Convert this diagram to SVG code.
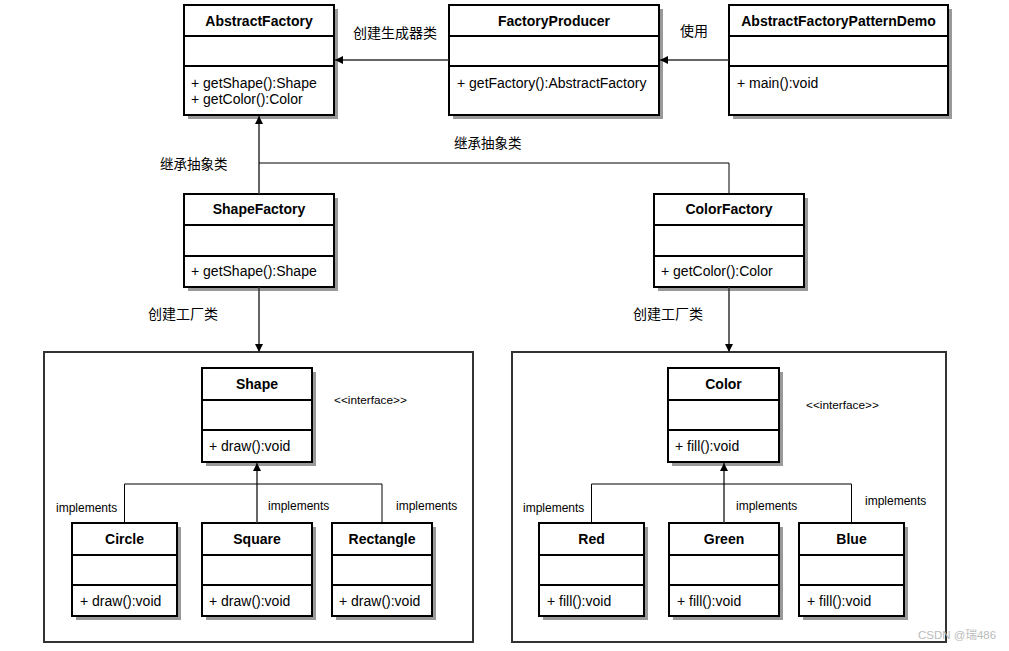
<svg xmlns="http://www.w3.org/2000/svg" width="1009" height="651" viewBox="0 0 1009 651">
<defs>
<style>
.box{fill:#fff;stroke:#000;stroke-width:2}
.sh{fill:#999}
.div{stroke:#000;stroke-width:2}
.hd{font-family:"Liberation Sans",Arial,sans-serif;font-size:14px;font-weight:bold;text-anchor:middle;fill:#000}
.mb{font-family:"Liberation Sans",Arial,sans-serif;font-size:14px;fill:#000}
.cn{font-family:"Liberation Sans","Noto Sans CJK SC",sans-serif;font-size:14px;fill:#000}
.im{font-family:"Liberation Sans",Arial,sans-serif;font-size:12px;fill:#000}
.it{font-family:"Liberation Sans",Arial,sans-serif;font-size:11.8px;fill:#000}
.ar{fill:none;stroke:#333;stroke-width:1.5}
.ln{fill:none;stroke:#000;stroke-width:1}
.ct{fill:#fff;stroke:#333;stroke-width:2}
</style>
<marker id="tri" viewBox="0 0 10 10" refX="10" refY="5" markerWidth="8" markerHeight="8" markerUnits="userSpaceOnUse" orient="auto">
<path d="M0,0 L10,5 L0,10 z" fill="#000"/>
</marker>
</defs>
<rect width="1009" height="651" fill="#fff"/>

<g id="containers">
<rect class="ct" x="44" y="352" width="429" height="290"/>
<rect class="ct" x="512" y="352" width="434" height="290"/>
</g>

<g id="AbstractFactory">
<rect class="sh" x="188" y="9" width="150" height="110"/>
<rect class="box" x="184" y="5" width="150" height="110"/>
<line class="div" x1="184" y1="36" x2="334" y2="36"/>
<line class="div" x1="184" y1="66" x2="334" y2="66"/>
<text class="hd" x="259" y="26">AbstractFactory</text>
<text class="mb" x="191" y="88">+ getShape():Shape</text>
<text class="mb" x="191" y="104">+ getColor():Color</text>
</g>

<g id="FactoryProducer">
<rect class="sh" x="453" y="9" width="210" height="110"/>
<rect class="box" x="449" y="5" width="210" height="110"/>
<line class="div" x1="449" y1="36" x2="659" y2="36"/>
<line class="div" x1="449" y1="66" x2="659" y2="66"/>
<text class="hd" x="554" y="26">FactoryProducer</text>
<text class="mb" x="457" y="88">+ getFactory():AbstractFactory</text>
</g>

<g id="AbstractFactoryPatternDemo">
<rect class="sh" x="733" y="9" width="219" height="110"/>
<rect class="box" x="729" y="5" width="219" height="110"/>
<line class="div" x1="729" y1="36" x2="948" y2="36"/>
<line class="div" x1="729" y1="66" x2="948" y2="66"/>
<text class="hd" x="838.5" y="26">AbstractFactoryPatternDemo</text>
<text class="mb" x="737" y="88">+ main():void</text>
</g>

<g id="ShapeFactory">
<rect class="sh" x="188" y="198" width="150" height="93"/>
<rect class="box" x="184" y="194" width="150" height="93"/>
<line class="div" x1="184" y1="225" x2="334" y2="225"/>
<line class="div" x1="184" y1="256" x2="334" y2="256"/>
<text class="hd" x="259" y="214">ShapeFactory</text>
<text class="mb" x="191" y="276">+ getShape():Shape</text>
</g>

<g id="ColorFactory">
<rect class="sh" x="658" y="198" width="150" height="93"/>
<rect class="box" x="654" y="194" width="150" height="93"/>
<line class="div" x1="654" y1="225" x2="804" y2="225"/>
<line class="div" x1="654" y1="256" x2="804" y2="256"/>
<text class="hd" x="729" y="214">ColorFactory</text>
<text class="mb" x="661" y="276">+ getColor():Color</text>
</g>

<g id="Shape">
<rect class="sh" x="206" y="372" width="110" height="94"/>
<rect class="box" x="202" y="368" width="110" height="94"/>
<line class="div" x1="202" y1="400" x2="312" y2="400"/>
<line class="div" x1="202" y1="430" x2="312" y2="430"/>
<text class="hd" x="257" y="389">Shape</text>
<text class="mb" x="209" y="451">+ draw():void</text>
<text class="it" x="334" y="404">&lt;&lt;interface&gt;&gt;</text>
</g>

<g id="Circle">
<rect class="sh" x="76" y="527" width="105" height="93"/>
<rect class="box" x="72" y="523" width="105" height="93"/>
<line class="div" x1="72" y1="555" x2="177" y2="555"/>
<line class="div" x1="72" y1="585" x2="177" y2="585"/>
<text class="hd" x="124.5" y="544">Circle</text>
<text class="mb" x="80" y="606">+ draw():void</text>
</g>

<g id="Square">
<rect class="sh" x="206" y="527" width="110" height="93"/>
<rect class="box" x="202" y="523" width="110" height="93"/>
<line class="div" x1="202" y1="555" x2="312" y2="555"/>
<line class="div" x1="202" y1="585" x2="312" y2="585"/>
<text class="hd" x="257" y="544">Square</text>
<text class="mb" x="209" y="606">+ draw():void</text>
</g>

<g id="Rectangle">
<rect class="sh" x="336" y="527" width="100" height="93"/>
<rect class="box" x="332" y="523" width="100" height="93"/>
<line class="div" x1="332" y1="555" x2="432" y2="555"/>
<line class="div" x1="332" y1="585" x2="432" y2="585"/>
<text class="hd" x="382" y="544">Rectangle</text>
<text class="mb" x="339" y="606">+ draw():void</text>
</g>

<g id="Color">
<rect class="sh" x="672" y="372" width="111" height="94"/>
<rect class="box" x="668" y="368" width="111" height="94"/>
<line class="div" x1="668" y1="400" x2="779" y2="400"/>
<line class="div" x1="668" y1="430" x2="779" y2="430"/>
<text class="hd" x="723.5" y="389">Color</text>
<text class="mb" x="675" y="451">+ fill():void</text>
<text class="it" x="806" y="409">&lt;&lt;interface&gt;&gt;</text>
</g>

<g id="Red">
<rect class="sh" x="543" y="527" width="105" height="93"/>
<rect class="box" x="539" y="523" width="105" height="93"/>
<line class="div" x1="539" y1="555" x2="644" y2="555"/>
<line class="div" x1="539" y1="585" x2="644" y2="585"/>
<text class="hd" x="591.5" y="544">Red</text>
<text class="mb" x="547" y="606">+ fill():void</text>
</g>

<g id="Green">
<rect class="sh" x="673" y="527" width="110" height="93"/>
<rect class="box" x="669" y="523" width="110" height="93"/>
<line class="div" x1="669" y1="555" x2="779" y2="555"/>
<line class="div" x1="669" y1="585" x2="779" y2="585"/>
<text class="hd" x="724" y="544">Green</text>
<text class="mb" x="677" y="606">+ fill():void</text>
</g>

<g id="Blue">
<rect class="sh" x="803" y="527" width="105" height="93"/>
<rect class="box" x="799" y="523" width="105" height="93"/>
<line class="div" x1="799" y1="555" x2="904" y2="555"/>
<line class="div" x1="799" y1="585" x2="904" y2="585"/>
<text class="hd" x="851.5" y="544">Blue</text>
<text class="mb" x="807" y="606">+ fill():void</text>
</g>

<g id="connectors">
<line class="ar" x1="449" y1="60" x2="335" y2="60" marker-end="url(#tri)"/>
<line class="ar" x1="729" y1="60" x2="660" y2="60" marker-end="url(#tri)"/>
<line class="ar" x1="259" y1="194" x2="259" y2="116" marker-end="url(#tri)"/>
<polyline class="ln" points="729,194 729,163 259,163"/>
<line class="ar" x1="259" y1="287" x2="259" y2="352" marker-end="url(#tri)"/>
<line class="ar" x1="729" y1="287" x2="729" y2="352" marker-end="url(#tri)"/>
<line class="ar" x1="257" y1="523" x2="257" y2="463" marker-end="url(#tri)"/>
<polyline class="ln" points="124.5,523 124.5,484 382,484 382,523"/>
<line class="ar" x1="724" y1="523" x2="724" y2="463" marker-end="url(#tri)"/>
<polyline class="ln" points="591.5,523 591.5,484 851.5,484 851.5,523"/>
</g>

<g id="labels">
<text class="cn" x="353" y="38">创建生成器类</text>
<text class="cn" x="680" y="36">使用</text>
<text class="cn" x="160" y="169" style="font-size:13.5px">继承抽象类</text>
<text class="cn" x="454" y="148" style="font-size:13.5px">继承抽象类</text>
<text class="cn" x="148" y="319">创建工厂类</text>
<text class="cn" x="633" y="319">创建工厂类</text>
<text class="im" x="56" y="512">implements</text>
<text class="im" x="268" y="510">implements</text>
<text class="im" x="396" y="510">implements</text>
<text class="im" x="523" y="512">implements</text>
<text class="im" x="736" y="510">implements</text>
<text class="im" x="865" y="505">implements</text>
<text x="918" y="639" style="font-family:'Liberation Sans','Noto Sans CJK SC',sans-serif;font-size:11.5px;fill:#bbb">CSDN @瑞486</text>
</g>
</svg>
